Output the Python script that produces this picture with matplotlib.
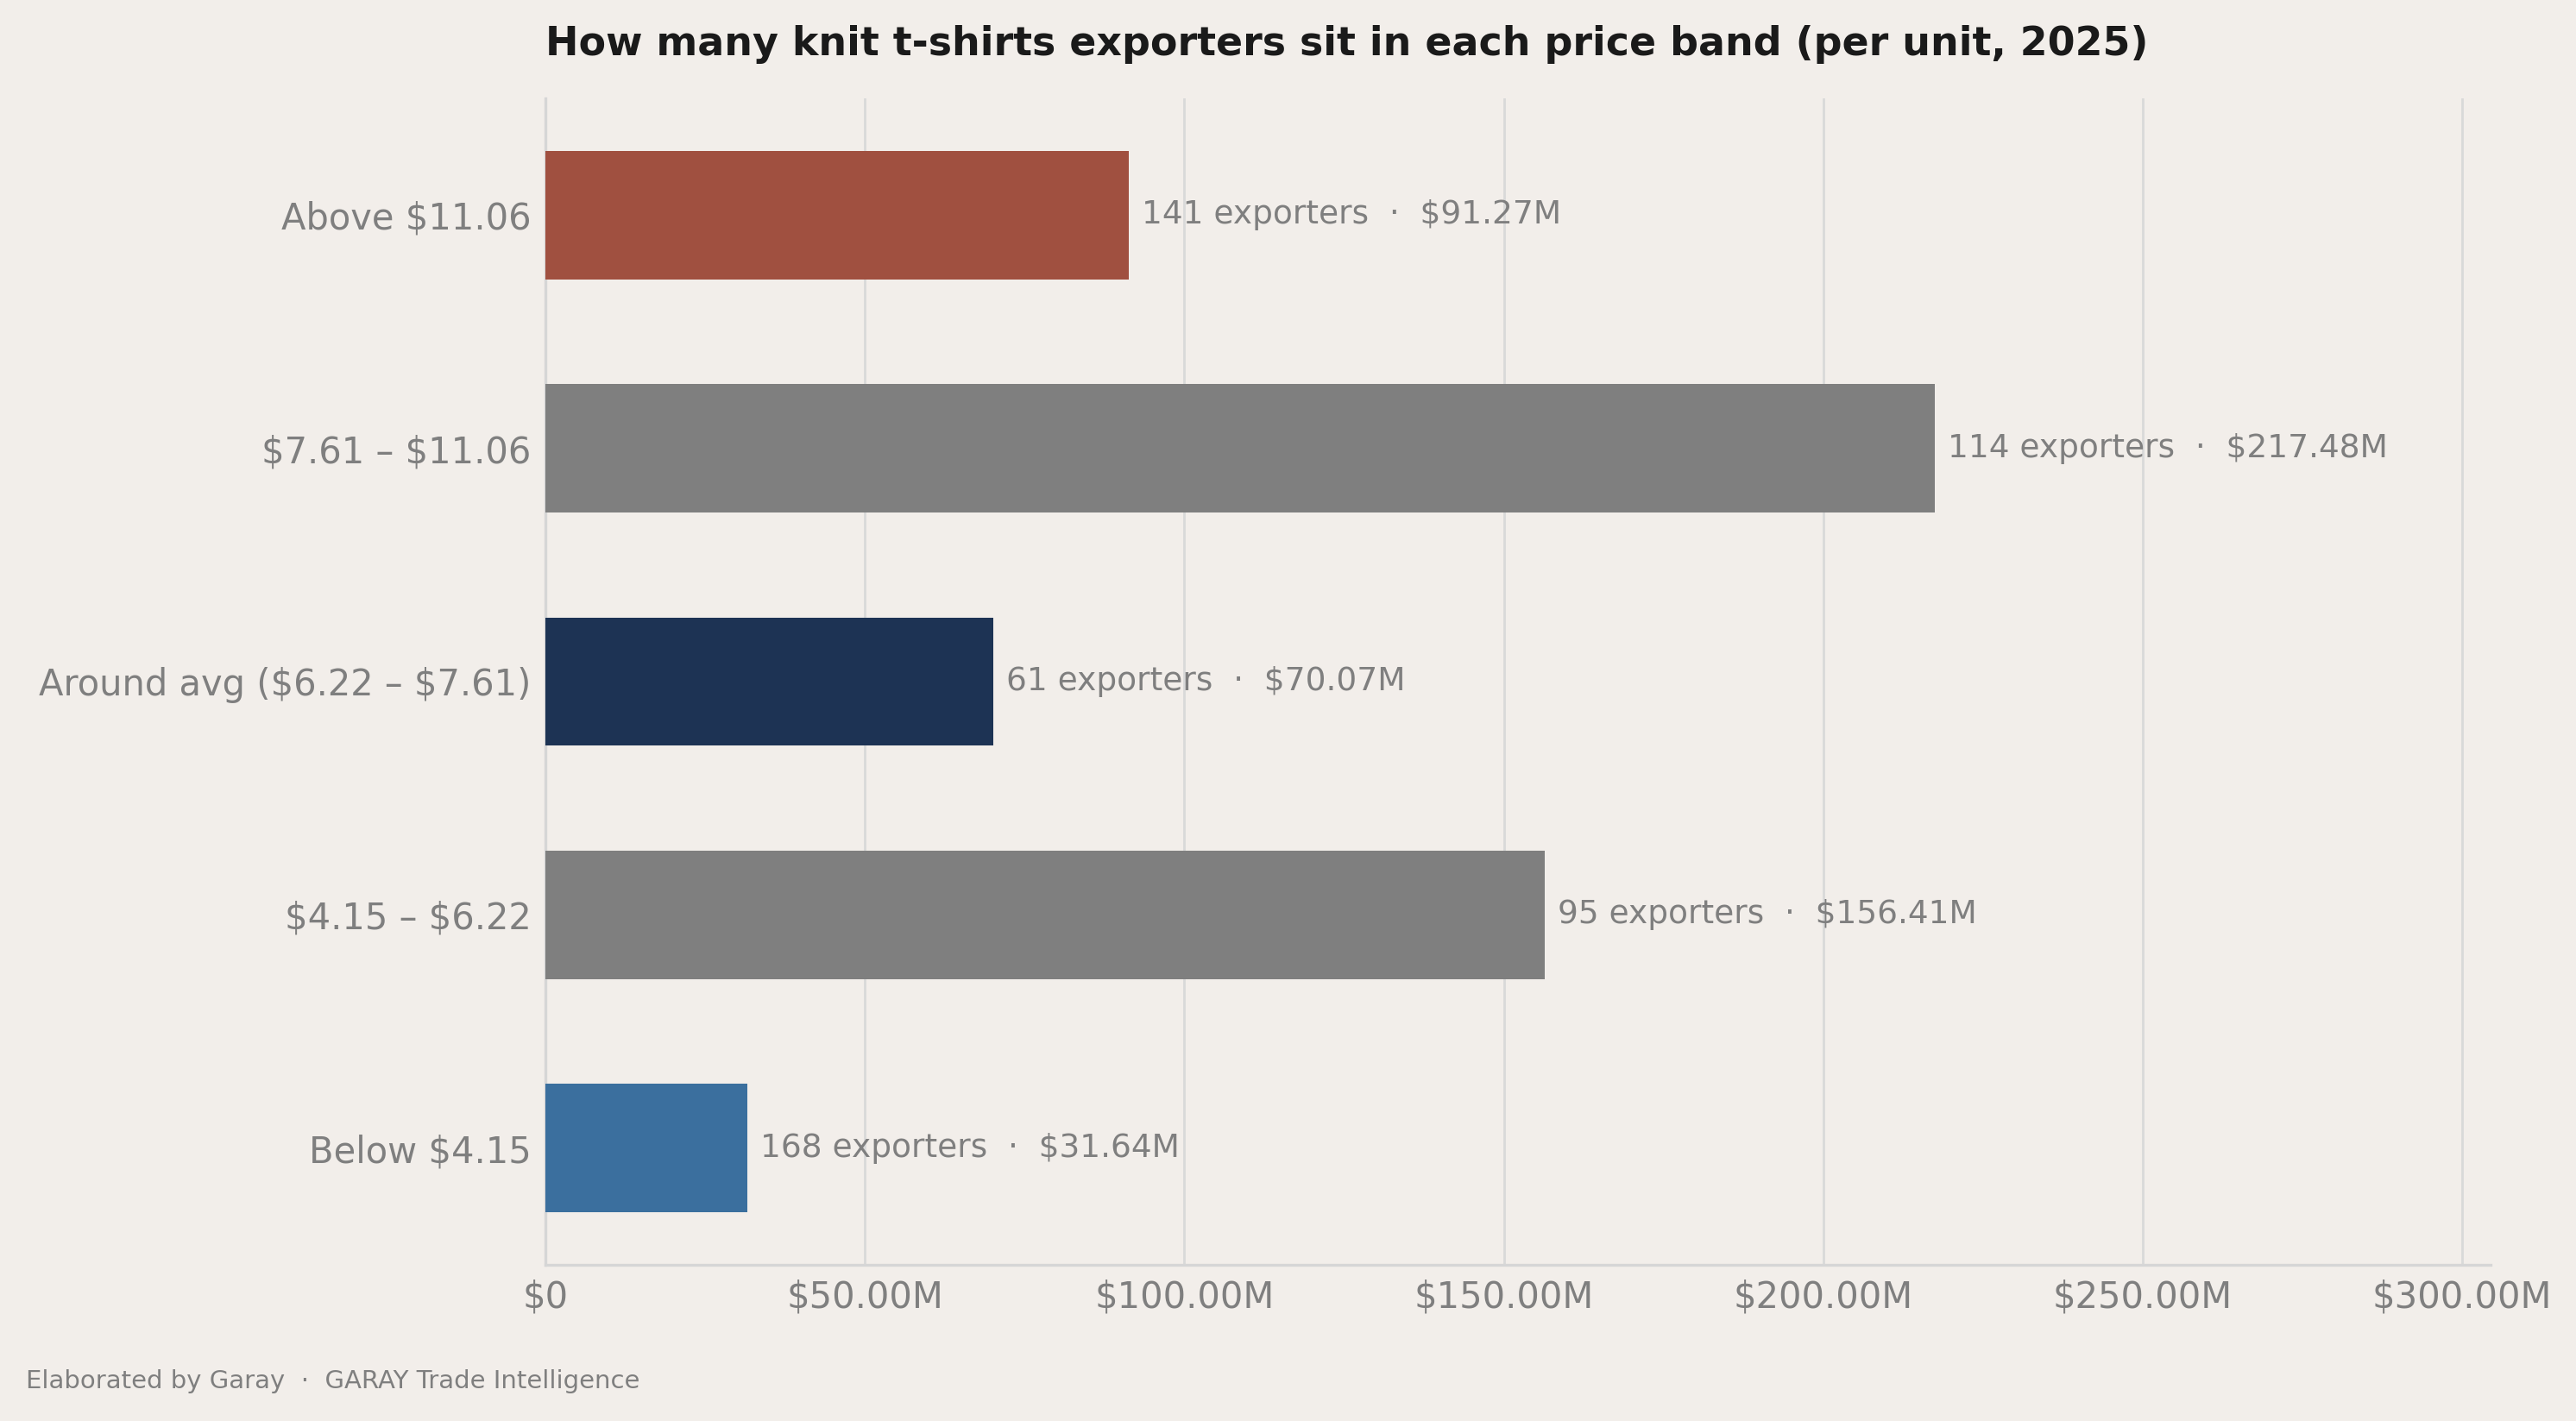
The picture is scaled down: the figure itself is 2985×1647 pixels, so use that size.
import matplotlib
matplotlib.use("Agg")
import matplotlib.pyplot as plt
from matplotlib.ticker import FuncFormatter

categories = ["Below $4.15", "$4.15 – $6.22", "Around avg ($6.22 – $7.61)", "$7.61 – $11.06", "Above $11.06"]
values_musd = [31.64, 156.41, 70.07, 217.48, 91.27]
exporters = [168, 95, 61, 114, 141]
colors = ["#3B6F9E", "#7F7F7F", "#1D3354", "#7F7F7F", "#A05040"]

BG = "#F2EEEA"
TXT = "#7F7F7F"

fig = plt.figure(figsize=(14.925, 8.235), dpi=200, facecolor=BG)
ax = fig.add_axes([0.2117, 0.11, 0.7552, 0.8208], facecolor=BG)

y = list(range(len(categories)))
ax.barh(y, values_musd, height=0.55, color=colors, zorder=3)
ax.set_xlim(0, max(values_musd) * 1.4)
ax.set_ylim(-0.5, len(categories) - 0.5)
ax.set_yticks(y)
ax.set_yticklabels([c.replace("$", r"\$") for c in categories])

for yi, v, n in zip(y, values_musd, exporters):
    ax.annotate(f"{n} exporters  ·  ${v:.2f}M", xy=(v, yi), xytext=(5.5, 0),
                textcoords="offset points", va="center", ha="left",
                fontsize=13.5, color=TXT)

ax.xaxis.set_major_formatter(FuncFormatter(lambda x, p: "$0" if x == 0 else f"${x:.2f}M"))
ax.set_xticks([0, 50, 100, 150, 200, 250, 300])
ax.tick_params(axis="both", length=0, colors=TXT, labelsize=15)
ax.tick_params(axis="y", pad=6)
ax.tick_params(axis="x", pad=6)
ax.grid(axis="x", color="#D9D9D9", linewidth=1.0, zorder=0)
for s in ["top", "right"]:
    ax.spines[s].set_visible(False)
for s in ["left", "bottom"]:
    ax.spines[s].set_color("#D6D6D6")
    ax.spines[s].set_linewidth(1.2)

ax.set_title("How many knit t-shirts exporters sit in each price band (per unit, 2025)",
             loc="left", fontsize=16.5, fontweight="bold", color="#1A1A1A", pad=18)
fig.text(0.01, 0.028, "Elaborated by Garay  ·  GARAY Trade Intelligence", fontsize=10.5, color=TXT,
         ha="left", va="center")

fig.savefig("out.png", dpi=200, facecolor=BG)
